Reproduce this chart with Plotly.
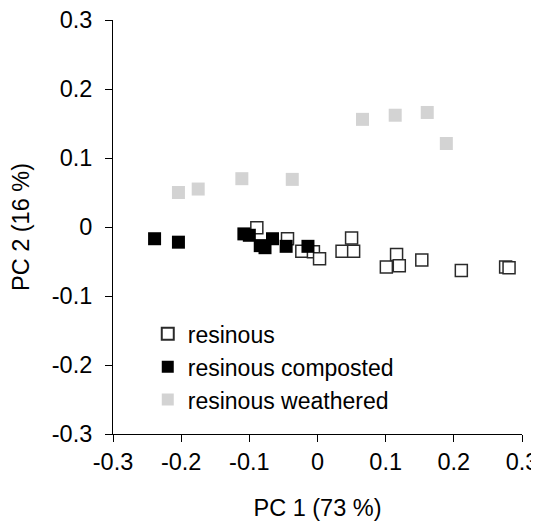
import plotly.graph_objects as go

# resinous (open squares)
res_x = [-0.089, -0.044, -0.023, -0.006, 0.003, 0.036, 0.050, 0.053, 0.101, 0.116, 0.120, 0.153, 0.211, 0.276, 0.281]
res_y = [-0.001, -0.017, -0.035, -0.036, -0.046, -0.035, -0.016, -0.035, -0.058, -0.040, -0.056, -0.048, -0.063, -0.058, -0.059]

# resinous composted (black squares)
comp_x = [-0.239, -0.204, -0.108, -0.100, -0.084, -0.077, -0.066, -0.046, -0.014]
comp_y = [-0.017, -0.022, -0.010, -0.012, -0.027, -0.030, -0.017, -0.028, -0.028]

# resinous weathered (light grey squares)
weat_x = [-0.204, -0.175, -0.111, -0.037, 0.066, 0.114, 0.161, 0.189]
weat_y = [0.050, 0.055, 0.070, 0.069, 0.156, 0.162, 0.166, 0.121]

tick_vals = [-0.3, -0.2, -0.1, 0, 0.1, 0.2, 0.3]
tick_text = ["-0.3", "-0.2", "-0.1", "0", "0.1", "0.2", "0.3"]

FONT = "Liberation Sans, Arial, sans-serif"
FS = 23.5

fig = go.Figure()
fig.add_trace(go.Scatter(
    x=weat_x, y=weat_y, mode="markers", name="resinous weathered",
    marker=dict(symbol="square", size=13, color="#d3d3d3", line=dict(width=0)),
))
fig.add_trace(go.Scatter(
    x=res_x, y=res_y, mode="markers", name="resinous",
    marker=dict(symbol="square", size=12, color="white", line=dict(width=1.5, color="#2a2a2a")),
))
fig.add_trace(go.Scatter(
    x=comp_x, y=comp_y, mode="markers", name="resinous composted",
    marker=dict(symbol="square", size=13, color="black", line=dict(width=0)),
))

axis_common = dict(
    range=[-0.3, 0.3], tickvals=tick_vals, ticktext=tick_text,
    showgrid=False, zeroline=False, showline=True, linecolor="black", linewidth=1,
    ticks="outside", ticklen=7, tickcolor="black", tickwidth=1,
    tickfont=dict(family=FONT, size=FS, color="black"),
    automargin=False, ticklabeloverflow="allow",
)

# the page body adds an 8 px offset, so the figure is 8 px smaller
fig.update_layout(
    width=531, height=513,
    margin=dict(l=105, r=17, t=12, b=87),
    paper_bgcolor="white", plot_bgcolor="white",
    font=dict(family=FONT, size=FS, color="black"),
    xaxis=dict(**axis_common, ticklabelstandoff=0,
               title=dict(text="PC 1 (73 %)", font=dict(family=FONT, size=FS, color="black"), standoff=25)),
    yaxis=dict(**axis_common, ticklabelstandoff=8,
               title=dict(text="PC 2 (16 %)", font=dict(family=FONT, size=FS, color="black"), standoff=16)),
    legend=dict(
        x=0.085, y=0.294, xanchor="left", yanchor="top",
        traceorder="normal", itemsizing="constant",
        font=dict(family=FONT, size=23, color="black"),
        bgcolor="rgba(0,0,0,0)", tracegroupgap=0,
    ),
    showlegend=True,
)

# order legend: resinous, composted, weathered
fig.data[0].legendrank = 3
fig.data[1].legendrank = 1
fig.data[2].legendrank = 2

fig.write_html("out.html")
